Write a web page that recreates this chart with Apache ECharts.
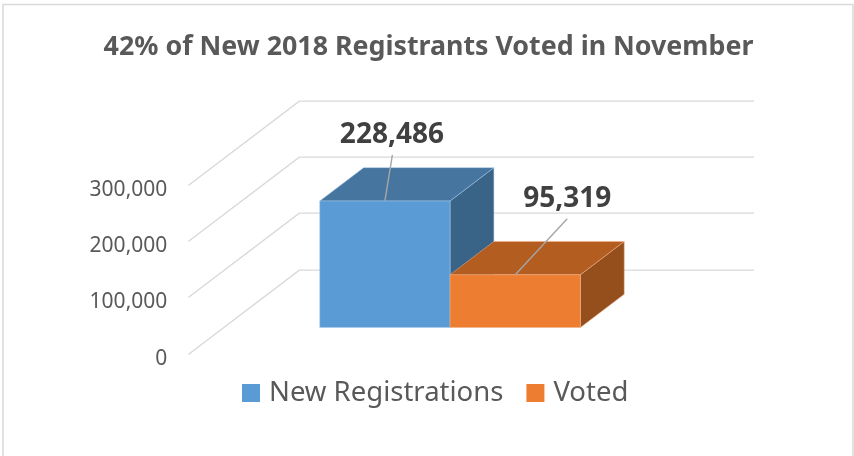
<!DOCTYPE html>
<html>
<head>
<meta charset="utf-8">
<style>html,body{margin:0;padding:0;background:#fff}#c{width:854px;height:456px}</style>
<script src="https://cdn.jsdelivr.net/npm/echarts@6/dist/echarts.min.js"></script>
</head>
<body>
<div id="c"></div>
<script>
const categories = ['2018'];
const seriesNames = ['New Registrations', 'Voted'];
const newRegistrations = [228486];
const voted = [95319];
const ticks = [0, 100000, 200000, 300000];
const titleText = '42% of New 2018 Registrants Voted in November';

// 3D projection of the depth axis, in pixels
const WALL_DX = 111, WALL_DY = -84.4;
const BAR_FRONT = 0.31, BAR_DEPTH = 0.395, BAR_WIDTH = 0.2866, BAR_SCALE = 0.985;
const FONT = '"Noto Sans"';

const FACE = [
  {front: '#5B9BD5', top: '#46759F', side: '#3A6487', edge: '#A9C9E8'},
  {front: '#ED7D31', top: '#B35D20', side: '#954F1C', edge: '#F3B48A'}
];
const LABEL_OFF = [
  {tx: 7, ty: -66, lx: 7.5, ly: -46},
  {tx: 52, ty: -76, lx: 52, ly: -56}
];

function wallItem(params, api) {
  const cs = params.coordSys;
  const p = api.coord([0, api.value(1)]);
  const y = Math.round(p[1]) + 0.5;
  const bx = cs.x + WALL_DX, by = y + WALL_DY;
  return {
    type: 'polyline',
    shape: {points: [[cs.x, y], [bx, by], [bx + cs.width, by]]},
    style: {stroke: '#D9D9D9', lineWidth: 1.4, fill: null},
    silent: true
  };
}

function barRender(idx) {
  return function (params, api) {
    const val = api.value(1);
    const base = api.coord([0, 0]);
    const top = api.coord([0, val]);
    const w = api.size([1, 0])[0] * BAR_WIDTH;
    const sx = WALL_DX * BAR_FRONT, sy = WALL_DY * BAR_FRONT;
    const dx = WALL_DX * BAR_DEPTH, dy = WALL_DY * BAR_DEPTH;
    const x0 = base[0] + sx + (idx === 0 ? -w : 0), x1 = x0 + w;
    const yb = base[1] + sy, yt = yb - (base[1] - top[1]) * BAR_SCALE;
    const f = FACE[idx], o = LABEL_OFF[idx];
    const cx = (x0 + x1) / 2;
    const poly = (pts, fill) => ({
      type: 'polygon', shape: {points: pts},
      style: {fill: fill, stroke: f.edge, lineWidth: 0.5}
    });
    return {
      type: 'group',
      children: [
        poly([[x1, yb], [x1, yt], [x1 + dx, yt + dy], [x1 + dx, yb + dy]], f.side),
        poly([[x0, yt], [x1, yt], [x1 + dx, yt + dy], [x0 + dx, yt + dy]], f.top),
        poly([[x0, yb], [x1, yb], [x1, yt], [x0, yt]], f.front),
        {type: 'line', shape: {x1: cx + o.lx, y1: yt + o.ly, x2: cx, y2: yt},
         style: {stroke: '#A6A6A6', lineWidth: 1.4}},
        {type: 'text', x: cx + o.tx, y: yt + o.ty,
         style: {text: val.toLocaleString('en-US'), fill: '#404040',
                 font: 'bold 28px ' + FONT, align: 'center', verticalAlign: 'middle'}}
      ]
    };
  };
}

const chart = echarts.init(document.getElementById('c'), null, {renderer: 'canvas'});
chart.setOption({
  animation: false,
  backgroundColor: '#fff',
  title: {
    text: titleText, left: 423.5, top: 29, textAlign: 'center',
    textStyle: {fontFamily: 'Noto Sans', fontWeight: 'bold', fontSize: 26.8, color: '#595959'}
  },
  legend: {
    data: seriesNames, left: 237, top: 374, icon: 'rect',
    itemWidth: 18, itemHeight: 18, itemGap: 23, selectedMode: false,
    textStyle: {fontFamily: 'Noto Sans', fontSize: 27.5, color: '#595959', padding: [0, 0, 0, 4]}
  },
  grid: {left: 188.3, width: 454.7, top: 185, height: 168.7},
  xAxis: {type: 'category', data: categories, show: false},
  yAxis: {
    type: 'value', min: 0, max: 300000, interval: 100000,
    axisLine: {show: false}, axisTick: {show: false}, splitLine: {show: false},
    axisLabel: {
      margin: 21,
      formatter: v => '{t|' + v.toLocaleString('en-US') + '}',
      rich: {t: {fontFamily: 'Noto Sans', fontSize: 21, color: '#595959', padding: [10, 0, 0, 0]}}
    }
  },
  graphic: [{
    type: 'polyline', silent: true, z: 0,
    shape: {points: [[3, 456], [3, 4.5], [853, 4.5], [853, 456]]},
    style: {stroke: '#D9D9D9', lineWidth: 1.5, fill: null}
  }],
  series: [
    {type: 'custom', name: 'wall', renderItem: wallItem, silent: true, z: 1,
     encode: {x: 0, y: 1}, data: ticks.map(t => [0, t])},
    {type: 'custom', name: seriesNames[0], renderItem: barRender(0), z: 2,
     itemStyle: {color: FACE[0].front}, encode: {x: 0, y: 1},
     data: newRegistrations.map((v, i) => [i, v])},
    {type: 'custom', name: seriesNames[1], renderItem: barRender(1), z: 3,
     itemStyle: {color: FACE[1].front}, encode: {x: 0, y: 1},
     data: voted.map((v, i) => [i, v])}
  ]
});
</script>
</body>
</html>
